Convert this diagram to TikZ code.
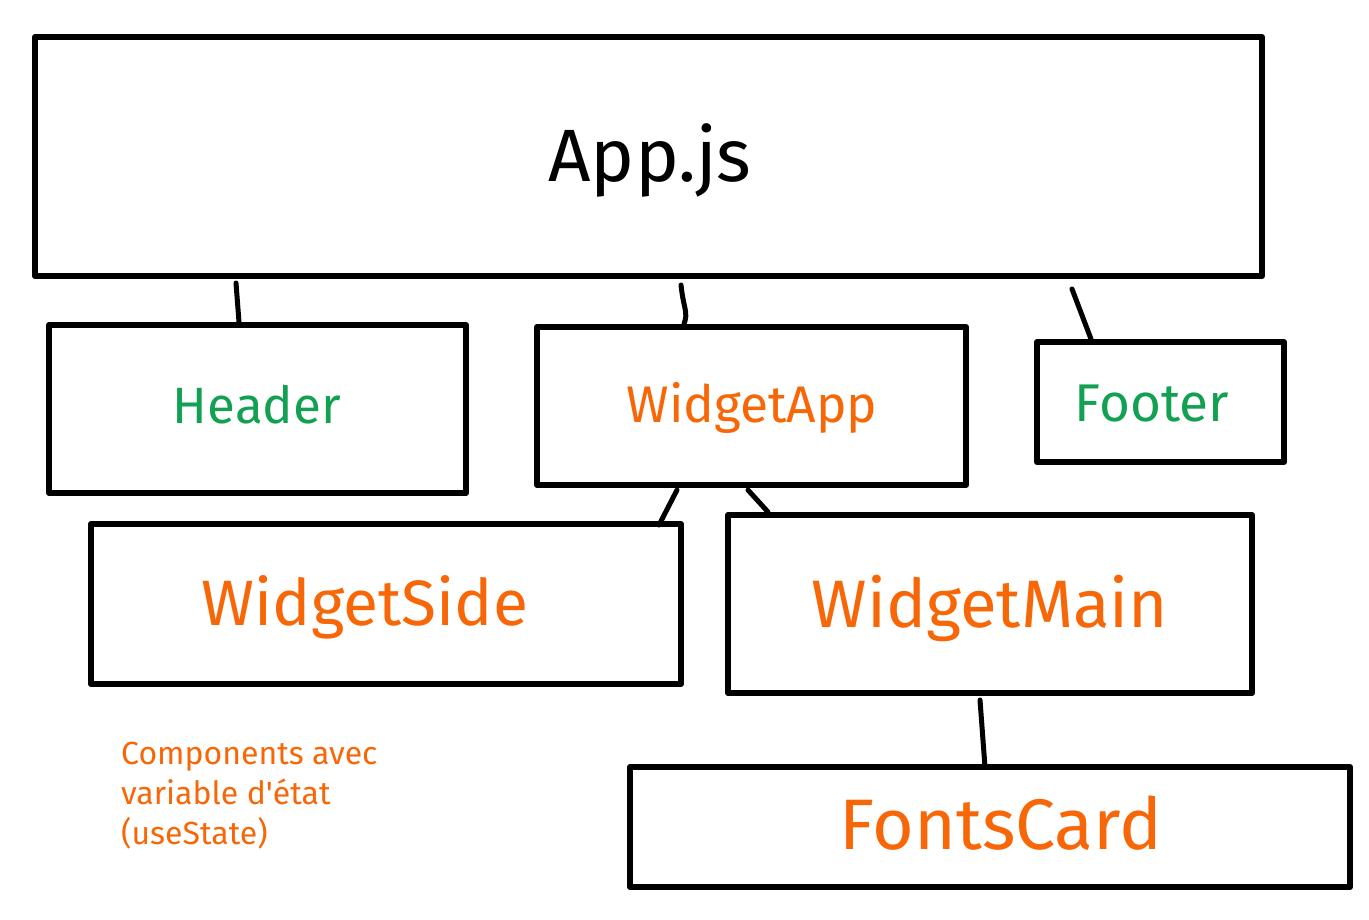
\documentclass[tikz,border=0pt]{standalone}
\usepackage{fontspec}
\setmainfont{Fira Sans}
\definecolor{cgreen}{RGB}{18,160,82}
\definecolor{corange}{RGB}{247,103,7}
\tikzset{
  box/.style={draw=black, line width=6pt, line join=round, line cap=round, inner sep=0pt},
  link/.style={draw=black, line width=5pt, line cap=round},
  lbl/.style={inner sep=0pt, yshift=-6pt},
}
\newcommand{\fitw}[2]{\resizebox{#1pt}{!}{\strut #2}}
\begin{document}
\begin{tikzpicture}[x=1pt,y=-1pt]
\useasboundingbox (0,0) rectangle (1369,920);
\node[box, minimum width=1227pt, minimum height=239pt] (app) at (648.5,156.5) {};
\node[lbl] (applbl) at (650,158) {\fitw{203}{App.js}};
\node[box, minimum width=417pt, minimum height=168pt] (header) at (257.5,409) {};
\node[lbl, text=cgreen] (headerlbl) at (257,405) {\fitw{168}{Header}};
\node[box, minimum width=429pt, minimum height=158pt] (wapp) at (751.5,406) {};
\node[lbl, text=corange] (wapplbl) at (752,404) {\fitw{251}{WidgetApp}};
\node[box, minimum width=247pt, minimum height=120pt] (footer) at (1160.5,402) {};
\node[lbl, text=cgreen] (footerlbl) at (1152,403) {\fitw{154}{Footer}};
\node[box, minimum width=590pt, minimum height=160pt] (wside) at (386,604) {};
\node[lbl, text=corange] (wsidelbl) at (365,604) {\fitw{326}{WidgetSide}};
\node[box, minimum width=524pt, minimum height=178pt] (wmain) at (990,604) {};
\node[lbl, text=corange] (wmainlbl) at (990,605) {\fitw{356}{WidgetMain}};
\node[box, minimum width=720pt, minimum height=120pt] (fonts) at (990,827) {};
\node[lbl, text=corange] (fontslbl) at (1001,826) {\fitw{322}{FontsCard}};
\node[inner sep=0pt, text=corange, anchor=north west, align=left, font=\fontsize{32}{40}\selectfont] (note) at (121,742) {Components avec\\variable d\textquotesingle état\\(useState)};
\draw[link] ([xshift=-412.5pt,yshift=-4pt]app.south) -- ([xshift=-18.5pt]header.north);
\draw[link] ([xshift=32.5pt,yshift=-6pt]app.south) .. controls ([xshift=35pt,yshift=-30pt]app.south) and ([xshift=-63pt,yshift=12pt]wapp.north) .. ([xshift=-67.5pt]wapp.north);
\draw[link] ([xshift=423.5pt,yshift=-10pt]app.south) -- ([xshift=-69.5pt]footer.north);
\draw[link] ([xshift=-74.5pt,yshift=-2pt]wapp.south) -- ([xshift=273pt,yshift=-4pt]wside.north);
\draw[link] ([xshift=-3.5pt,yshift=-2pt]wapp.south) -- ([xshift=-222pt]wmain.north);
\draw[link] ([xshift=-10pt,yshift=-4pt]wmain.south) -- ([xshift=-5pt,yshift=-3pt]fonts.north);
\end{tikzpicture}
\end{document}
